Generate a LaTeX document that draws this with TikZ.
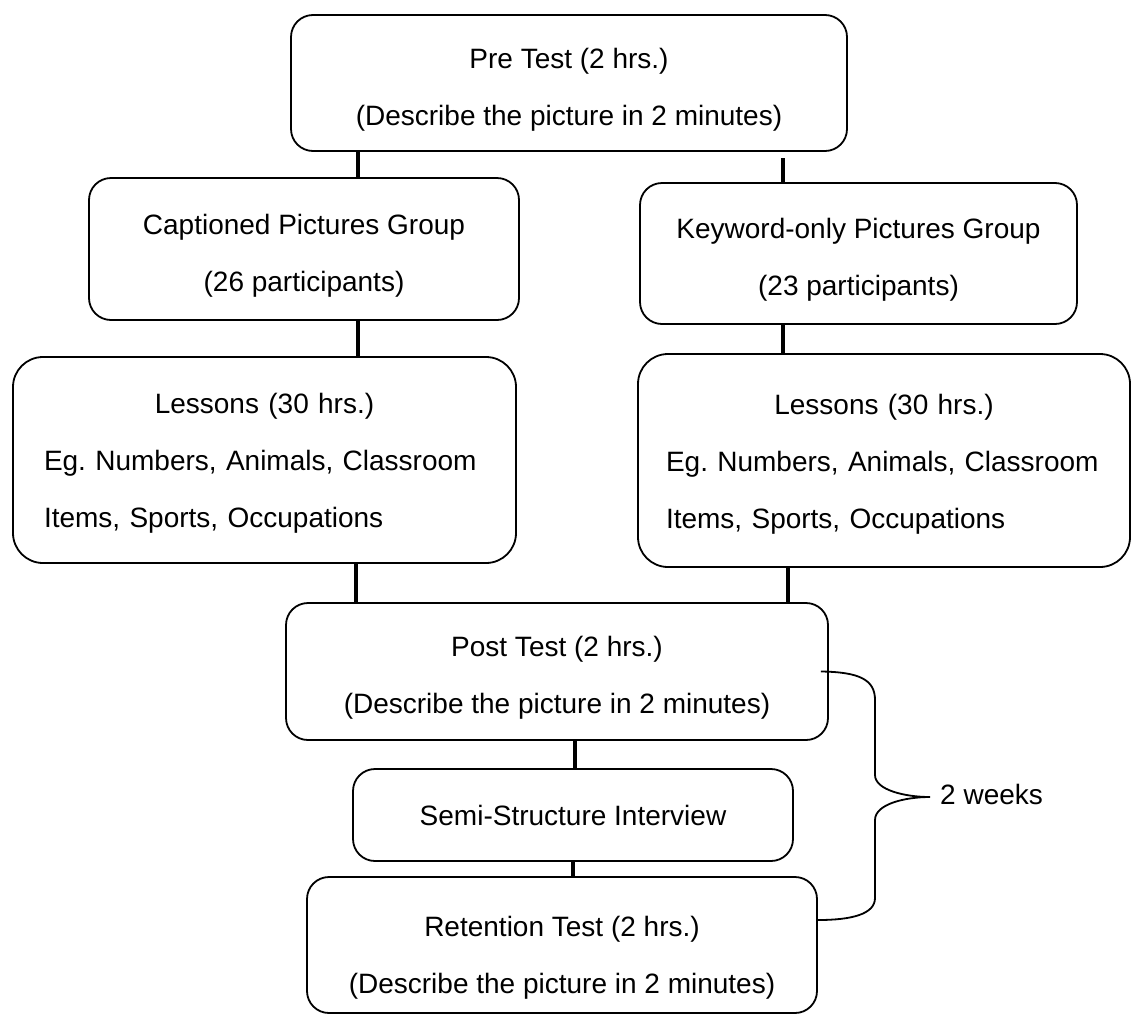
\documentclass[tikz,border=0pt]{standalone}
\usepackage{fontspec}
\setmainfont{Liberation Sans}
\newcommand{\fsz}{\fontsize{28pt}{57pt}\selectfont\frenchspacing\hyphenpenalty=10000 }
\newcommand{\tstrut}{\rule{0pt}{33pt}}
\begin{document}
\begin{tikzpicture}[x=1pt,y=-1pt,
  box/.style={draw, line width=1.8pt, rounded corners=22pt, inner sep=0pt, align=center, font=\fsz},
  bigbox/.style={box, rounded corners=30pt, align=left},
  conn/.style={line width=3.2pt},
  brace/.style={line width=1.8pt}]
\useasboundingbox (0,0) rectangle (1131,1015);

\node[box, minimum width=556pt, minimum height=136pt] (pre) at (569,83)
  {\tstrut Pre Test (2 hrs.)\\(Describe the picture in 2 minutes)};
\node[box, minimum width=430pt, minimum height=142pt] (capt) at (304,249)
  {\tstrut Captioned Pictures Group\\(26 participants)};
\node[box, minimum width=437pt, minimum height=141pt] (key) at (858.5,253.5)
  {\tstrut Keyword-only Pictures Group\\(23 participants)};
\node[bigbox, minimum width=503pt, minimum height=206pt, text width=441pt] (lessL) at (264.5,460)
  {\makebox[\linewidth][c]{\rule{0pt}{27pt}Lessons (30 hrs.)}\\Eg. Numbers, Animals, Classroom\\Items, Sports, Occupations};
\node[bigbox, minimum width=492pt, minimum height=213pt, text width=436pt] (lessR) at (884,460.5)
  {\makebox[\linewidth][c]{\rule{0pt}{27pt}Lessons (30 hrs.)}\\Eg. Numbers, Animals, Classroom\\Items, Sports, Occupations};
\node[box, minimum width=542pt, minimum height=137pt] (post) at (557,671.5)
  {\tstrut Post Test (2 hrs.)\\(Describe the picture in 2 minutes)};
\node[box, minimum width=440pt, minimum height=92pt] (semi) at (573,815)
  {Semi-Structure Interview};
\node[box, minimum width=510pt, minimum height=136pt] (ret) at (562,945)
  {\rule{0pt}{45pt}Retention Test (2 hrs.)\\(Describe the picture in 2 minutes)};

% connectors
\coordinate (xL) at (358,0);
\coordinate (xLb) at (356,0);
\coordinate (kTop) at (783,158);
\coordinate (xR) at (783,0);
\coordinate (xRb) at (788,0);
\coordinate (xC) at (575,0);
\coordinate (xCb) at (573,0);
\draw[conn] (pre.south -| xL) -- (capt.north -| xL);
\draw[conn] (kTop) -- (key.north -| kTop);
\draw[conn] (capt.south -| xL) -- (lessL.north -| xL);
\draw[conn] (key.south -| xR) -- (lessR.north -| xR);
\draw[conn] (lessL.south -| xLb) -- (post.north -| xLb);
\draw[conn] (lessR.south -| xRb) -- (post.north -| xRb);
\draw[conn] (post.south -| xC) -- (semi.north -| xC);
\draw[conn] (semi.south -| xCb) -- (ret.north -| xCb);

% brace
\coordinate (bt) at ([xshift=-8pt]post.east);
\coordinate (btip) at (930,797);
\coordinate (bb) at (818,920);
\draw[brace] (bt) .. controls (860,672) and (875,680) .. (875,700) -- (875,775)
  .. controls (875,790) and (905,797) .. (btip)
  .. controls (905,797) and (875,804) .. (875,820) -- (875,898)
  .. controls (875,914) and (852,920) .. (bb);
\node[anchor=west, inner sep=0pt, font=\fsz] (wk) at (940,794) {2 weeks};
\end{tikzpicture}
\end{document}
